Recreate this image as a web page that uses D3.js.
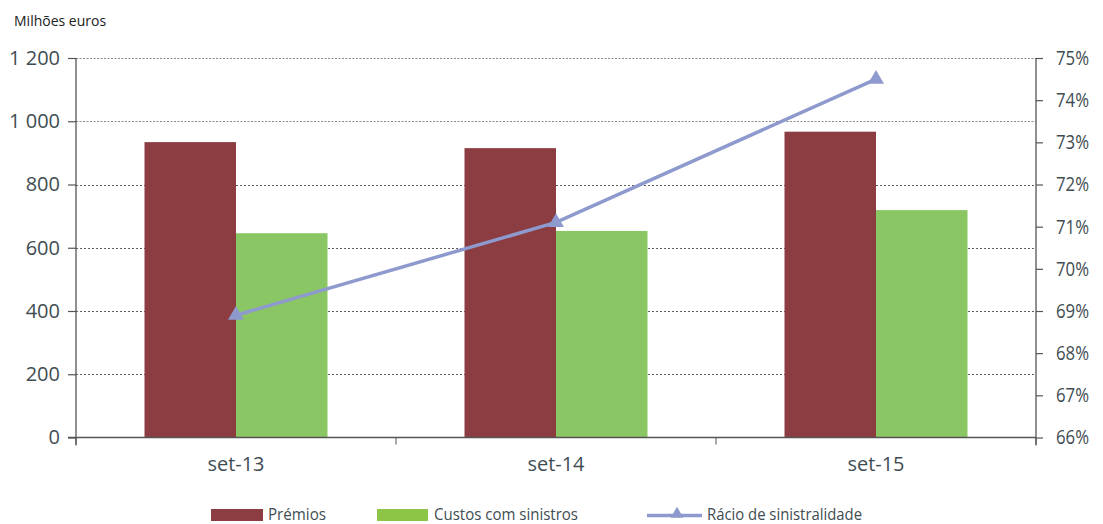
<!DOCTYPE html>
<html>
<head>
<meta charset="utf-8">
<script src="https://cdn.jsdelivr.net/npm/d3@7"></script>
<style>
  html, body { margin: 0; padding: 0; background: #fff; }
  svg { display: block; font-family: "Open Sans", "Noto Sans", sans-serif; }
</style>
</head>
<body>
<svg id="chart" width="1103" height="524"></svg>
<script>
// Values in million euros and loss ratio (%)
const categories = ["set-13", "set-14", "set-15"];
const premios = [934, 915, 967];
const custos = [646, 653, 719];
const racio = [68.9, 71.1, 74.5];
const leftTicks = [0, 200, 400, 600, 800, 1000, 1200];
const rightTicks = [66, 67, 68, 69, 70, 71, 72, 73, 74, 75];

const colors = { premios: "#8b3d42", custos: "#8bc665", custosKey: "#8dc646", racio: "#8e9acd", text: "#3f4d52", axis: "#555" };

const svg = d3.select("#chart");
const m = { left: 76, right: 1036, top: 58, bottom: 437.5 };

const x = d3.scaleBand().domain(categories).range([m.left, m.right]);
const barW = 91.5;
const yL = d3.scaleLinear().domain([0, 1200]).range([m.bottom, m.top]);
const yR = d3.scaleLinear().domain([66, 75]).range([m.bottom, m.top]);

const fmtThousands = d => d >= 1000 ? d3.format(",")(d).replace(",", " ") : String(d);

// gridlines
svg.append("g").selectAll("line").data(leftTicks.filter(d => d > 0)).join("line")
  .attr("x1", m.left).attr("x2", m.right)
  .attr("y1", d => Math.round(yL(d)) + 0.5).attr("y2", d => Math.round(yL(d)) + 0.5)
  .attr("stroke", d => d >= 1000 ? "#8a8a8a" : "#333")
  .attr("stroke-width", d => d >= 1000 ? 1.2 : 0.8)
  .attr("stroke-dasharray", d => d >= 1000 ? "2,1.5" : "2,2");

// bars
const cx = d => x(d) + x.bandwidth() / 2;
svg.append("g").selectAll("rect").data(categories).join("rect")
  .attr("x", d => cx(d) - barW).attr("width", barW)
  .attr("y", (d, i) => yL(premios[i])).attr("height", (d, i) => yL(0) - yL(premios[i]))
  .attr("fill", colors.premios);
svg.append("g").selectAll("rect").data(categories).join("rect")
  .attr("x", d => cx(d)).attr("width", barW)
  .attr("y", (d, i) => yL(custos[i])).attr("height", (d, i) => yL(0) - yL(custos[i]))
  .attr("fill", colors.custos);

// left axis
const gL = svg.append("g").attr("transform", `translate(${m.left},0)`)
  .call(d3.axisLeft(yL).tickValues(leftTicks).tickFormat(fmtThousands).tickSize(8).tickPadding(8));
// right axis
const gR = svg.append("g").attr("transform", `translate(${m.right},0)`)
  .call(d3.axisRight(yR).tickValues(rightTicks).tickFormat(d => d + "%").tickSize(7).tickPadding(13));
// x axis
const gX = svg.append("g").attr("transform", `translate(0,${m.bottom})`)
  .call(d3.axisBottom(x).tickSize(0).tickPadding(20));
gX.append("g").selectAll("line").data([m.left, m.left + x.step(), m.left + 2 * x.step(), m.right]).join("line")
  .attr("x1", d => d).attr("x2", d => d).attr("y1", 0).attr("y2", 7).attr("stroke", colors.axis);

[gL, gR, gX].forEach(g => {
  g.select(".domain").attr("stroke", colors.axis).attr("stroke-width", 1.3);
  g.selectAll(".tick line").attr("stroke", colors.axis).attr("stroke-width", 1.2);
  g.selectAll("text").attr("fill", colors.text).attr("font-size", 20)
    .attr("font-family", "'Open Sans', 'Noto Sans', sans-serif");
});
gL.select(".domain").attr("d", `M0,${m.top}V${m.bottom + 8}`);
gR.select(".domain").attr("d", `M0,${m.top}V${m.bottom + 8}`);
gX.select(".domain").attr("d", `M${m.left - 8},0H${m.right}`);
gX.selectAll("text").attr("font-size", 19.5).attr("textLength", 57).attr("lengthAdjust", "spacingAndGlyphs");
gR.selectAll("text").attr("textLength", 33).attr("lengthAdjust", "spacingAndGlyphs");

// ratio line
const line = d3.line().x(d => cx(d.c)).y(d => yR(d.v));
const pts = categories.map((c, i) => ({ c, v: racio[i] }));
svg.append("path").datum(pts).attr("d", line)
  .attr("fill", "none").attr("stroke", colors.racio).attr("stroke-width", 3.5);
const tri = d3.symbol().type(d3.symbolTriangle).size(110);
svg.append("g").selectAll("path").data(pts).join("path")
  .attr("d", tri).attr("transform", d => `translate(${cx(d.c)},${yR(d.v)})`)
  .attr("fill", colors.racio);

// unit label
svg.append("text").attr("x", 14).attr("y", 26).attr("font-size", 14)
  .attr("fill", "#222").text("Milhões euros");

// legend
const lg = svg.append("g").attr("font-size", 16).attr("fill", colors.text);
const legendText = (xPos, label, w) => lg.append("text").attr("x", xPos).attr("y", 519.5)
  .attr("textLength", w).attr("lengthAdjust", "spacingAndGlyphs").text(label);
lg.append("rect").attr("x", 211).attr("y", 509).attr("width", 52).attr("height", 12).attr("fill", colors.premios);
legendText(268, "Prémios", 58);
lg.append("rect").attr("x", 377).attr("y", 509).attr("width", 51).attr("height", 12).attr("fill", colors.custosKey);
legendText(434, "Custos com sinistros", 144);
lg.append("line").attr("x1", 647).attr("x2", 702).attr("y1", 515.5).attr("y2", 515.5)
  .attr("stroke", colors.racio).attr("stroke-width", 3.5);
lg.append("path").attr("d", d3.symbol().type(d3.symbolTriangle).size(70))
  .attr("transform", "translate(677,514)").attr("fill", colors.racio);
legendText(707, "Rácio de sinistralidade", 155);
</script>
</body>
</html>
